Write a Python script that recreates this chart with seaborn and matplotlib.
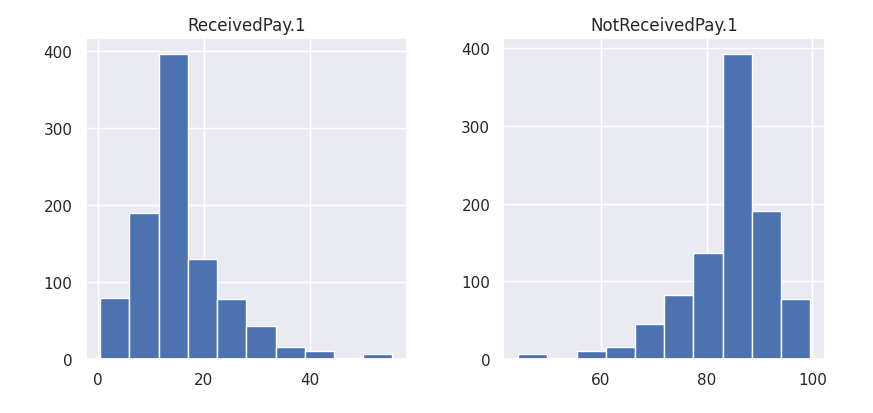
import numpy as np
import matplotlib
matplotlib.use("Agg")
import matplotlib.pyplot as plt
import seaborn as sns

sns.set_theme()

# Histogram values (10 bins per column)
titles = ["ReceivedPay.1", "NotReceivedPay.1"]
received_edges = np.linspace(0.4, 55.6, 11)
received_counts = [80, 190, 397, 130, 78, 43, 16, 10, 2, 7]
notreceived_edges = np.linspace(44.4, 99.6, 11)
notreceived_counts = [7, 2, 10, 16, 45, 82, 136, 393, 190, 77]

fig, axes = plt.subplots(1, 2, figsize=(8.73, 4.14), dpi=100)
fig.subplots_adjust(left=0.098, right=0.945, top=0.905, bottom=0.13, wspace=0.3)

for ax, title, edges, counts in zip(axes, titles,
                                    [received_edges, notreceived_edges],
                                    [received_counts, notreceived_counts]):
    centers = (edges[:-1] + edges[1:]) / 2
    ax.hist(centers, bins=edges, weights=counts, color="#4c72b0", edgecolor="white", linewidth=1)
    ax.set_title(title, fontsize=12)
    ax.tick_params(labelsize=11)

axes[0].set_xticks([0, 20, 40])
axes[1].set_xticks([60, 80, 100])
for ax in axes:
    ax.set_yticks([0, 100, 200, 300, 400])

plt.savefig("out.png", dpi=100)
